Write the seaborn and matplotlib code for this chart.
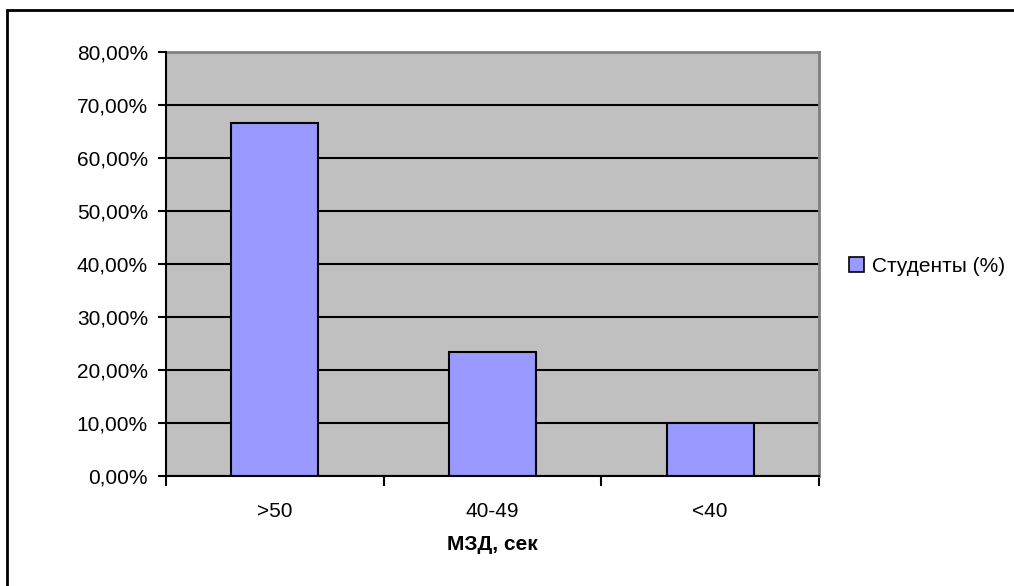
import matplotlib
matplotlib.use("Agg")
import matplotlib.pyplot as plt
import matplotlib.patches as mpatches
from matplotlib.ticker import FixedLocator, FuncFormatter
import seaborn as sns
import pandas as pd

categories = [">50", "40-49", "<40"]
students_pct = [66.67, 23.33, 10.00]
series_name = "Студенты (%)"
x_title = "МЗД, сек"
y_ticks = [0, 10, 20, 30, 40, 50, 60, 70, 80]

sns.set_theme(style="white")
plt.rcParams["font.family"] = ["Liberation Sans", "DejaVu Sans"]
plt.rcParams["text.color"] = "black"
plt.rcParams["axes.labelcolor"] = "black"
plt.rcParams["xtick.color"] = "black"
plt.rcParams["ytick.color"] = "black"

W, H = 1014, 586
fig = plt.figure(figsize=(W / 100, H / 100), dpi=100)
fig.patch.set_facecolor("white")

# plot area in pixel coordinates
left, right, top, bottom = 166, 819, 52, 476
ax = fig.add_axes([left / W, 1 - bottom / H, (right - left) / W, (bottom - top) / H])
ax.set_facecolor("#C0C0C0")

df = pd.DataFrame({"cat": categories, "val": students_pct})
sns.barplot(data=df, x="cat", y="val", color="#9999FF", saturation=1,
            edgecolor="black", linewidth=1.5, width=0.4, ax=ax, zorder=3)

ax.set_xlim(-0.5, len(categories) - 0.5)
ax.set_ylim(0, 80)

# horizontal gridlines
ax.set_yticks(y_ticks)
ax.yaxis.grid(True, color="black", linewidth=1.5, zorder=1)
ax.set_axisbelow(True)
ax.yaxis.set_major_formatter(FuncFormatter(lambda v, p: f"{v:.2f}".replace(".", ",") + "%"))

# category labels centred, tick marks on category boundaries
ax.set_xticks(range(len(categories)))
ax.set_xticklabels(categories)
ax.xaxis.set_minor_locator(FixedLocator([i - 0.5 for i in range(len(categories) + 1)]))
ax.tick_params(axis="x", which="major", length=0, pad=19, labelsize=15, labelcolor="black")
ax.tick_params(axis="x", which="minor", length=7, width=1.5, color="black", direction="out", bottom=True)
ax.tick_params(axis="y", which="major", length=6, width=1.5, color="black", direction="out",
               left=True, labelsize=15, pad=7, labelcolor="black")

ax.set_xlabel(x_title, fontsize=15, fontweight="bold", labelpad=10, color="black")
ax.set_ylabel("")

for s in ["left", "bottom"]:
    ax.spines[s].set_color("black")
    ax.spines[s].set_linewidth(1.5)
    ax.spines[s].set_zorder(4)
for s in ["top", "right"]:
    ax.spines[s].set_color("#808080")
    ax.spines[s].set_linewidth(2)

# legend on the right
handle = mpatches.Patch(facecolor="#9999FF", edgecolor="black", linewidth=1.2)
leg = fig.legend([handle], [series_name], loc="center left",
                 bbox_to_anchor=(839 / W, 1 - 266 / H), frameon=False, fontsize=15,
                 handlelength=0.7, handleheight=0.7, handletextpad=0.4, borderpad=0)
for t in leg.get_texts():
    t.set_color("black")

# chart border
fig.add_artist(mpatches.Rectangle((7 / W, -0.05), 1.2, 1 - 10 / H + 0.05,
                                  transform=fig.transFigure, fill=False,
                                  edgecolor="black", linewidth=2))

fig.savefig("out.png", dpi=100)
